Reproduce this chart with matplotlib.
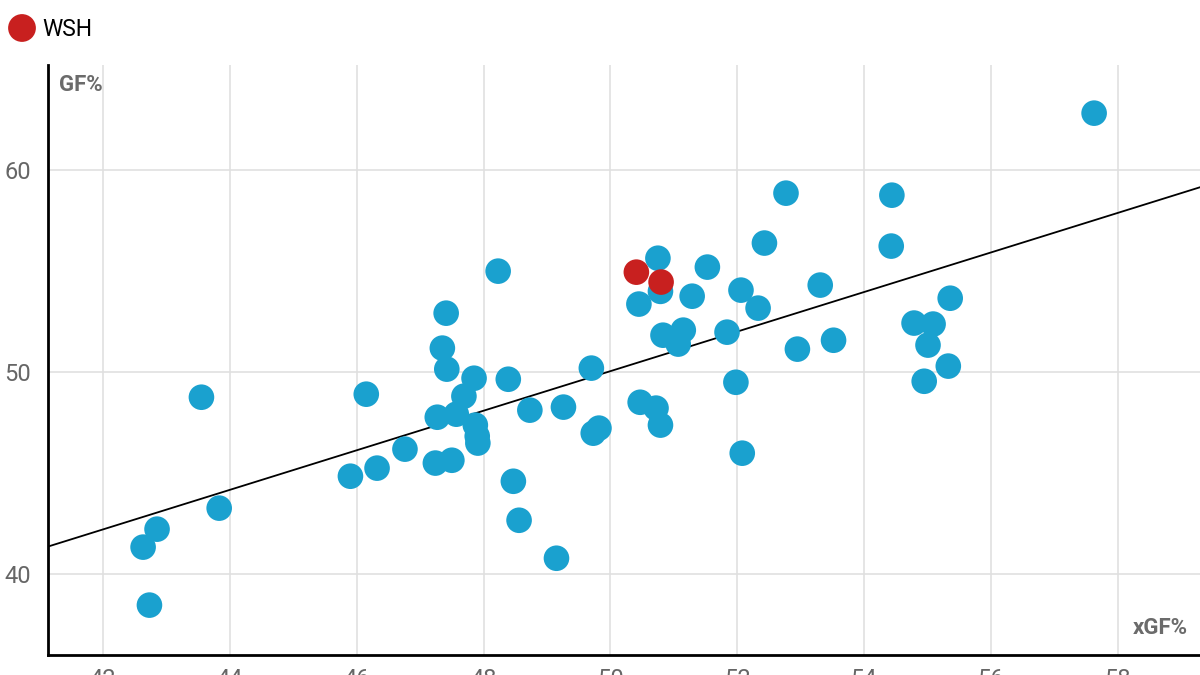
import numpy as np
import matplotlib
matplotlib.use("Agg")
from matplotlib import pyplot as plt

plt.rcParams['font.family'] = ['Roboto', 'DejaVu Sans']

# xGF% / GF% for every team season (blue), WSH highlighted (red)
xgf = [57.63, 52.77, 54.44, 52.43, 54.43, 50.75, 51.53, 48.23, 50.79, 53.31,
       52.06, 51.29, 55.36, 50.45, 52.33, 47.41, 54.79, 55.09, 51.15, 50.83,
       51.07, 51.84, 47.35, 55.01, 52.95, 53.52, 47.42, 49.70, 55.33, 43.55,
       46.15, 47.85, 48.39, 51.98, 54.95, 47.69, 47.57, 47.27, 48.73, 49.26,
       50.47, 50.72, 50.79, 47.87, 47.90, 47.91, 49.82, 49.73, 46.76, 47.24,
       47.50, 46.32, 45.90, 52.08, 48.47, 43.83, 42.85, 42.63, 48.56, 49.15,
       42.73]
gf = [62.82, 58.86, 58.76, 56.39, 56.24, 55.64, 55.20, 55.00, 54.00, 54.31,
      54.06, 53.76, 53.66, 53.37, 53.17, 52.92, 52.43, 52.38, 52.08, 51.83,
      51.39, 51.98, 51.19, 51.34, 51.14, 51.58, 50.15, 50.20, 50.30, 48.76,
      48.91, 49.70, 49.65, 49.50, 49.55, 48.81, 47.92, 47.77, 48.12, 48.27,
      48.51, 48.22, 47.38, 47.38, 46.83, 46.49, 47.23, 46.98, 46.19, 45.50,
      45.64, 45.25, 44.85, 45.99, 44.60, 43.27, 42.23, 41.34, 42.67, 40.79,
      38.47]
wsh_xgf = [50.41, 50.80]
wsh_gf = [54.95, 54.46]

x_ticks = [42, 44, 46, 48, 50, 52, 54, 56, 58]
y_ticks = [40, 50, 60]

BLUE = "#1aa1cf"
RED = "#c8201f"

fig = plt.figure(figsize=(12, 6.75), dpi=100)
ax = fig.add_axes([0.04, 0.0296, 0.96, 0.874])

ax.set_xlim(41.13, 59.3)
ax.set_ylim(36.0, 65.2)

# trend line fitted over all points
all_x = np.array(xgf + wsh_xgf)
all_y = np.array(gf + wsh_gf)
slope, intercept = np.polyfit(all_x, all_y, 1)
lx = np.array(ax.get_xlim())
ax.plot(lx, slope * lx + intercept, color="black", lw=1.3, zorder=2)

ax.scatter(xgf, gf, s=340, color=BLUE, edgecolors="none", zorder=3)
ax.scatter(wsh_xgf, wsh_gf, s=340, color=RED, edgecolors="none", zorder=4)

ax.set_xticks(x_ticks)
ax.set_yticks(y_ticks)
ax.grid(True, color="#e0e0e0", lw=1.2, zorder=0)
ax.set_axisbelow(True)
ax.tick_params(length=0, labelsize=17, labelcolor="#666666")
ax.tick_params(axis="x", pad=9)
ax.tick_params(axis="y", pad=12)

for side in ["top", "right"]:
    ax.spines[side].set_visible(False)
for side in ["left", "bottom"]:
    ax.spines[side].set_linewidth(2)
    ax.spines[side].set_color("black")

ax.text(0.0095, 0.985, "GF%", transform=ax.transAxes, fontsize=16,
        fontweight="bold", color="#6b6b6b", va="top", ha="left")
ax.text(0.9895, 0.027, "xGF%", transform=ax.transAxes, fontsize=16,
        fontweight="bold", color="#6b6b6b", va="bottom", ha="right")

# legend
fig.text(0.035, 0.957, "WSH", fontsize=16.5, color="black", va="center", ha="left")
leg_ax = fig.add_axes([0, 0.9, 0.04, 0.1])
leg_ax.set_xlim(0, 48)
leg_ax.set_ylim(0, 67.5)
leg_ax.scatter([22], [39.5], s=400, color=RED, edgecolors="none")
leg_ax.axis("off")

fig.savefig("out.png", dpi=100)
